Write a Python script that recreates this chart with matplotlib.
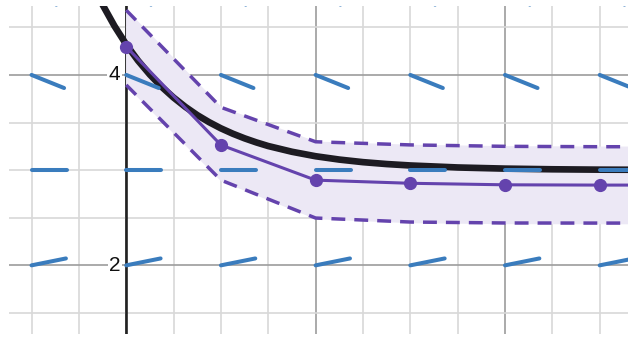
import numpy as np
import matplotlib.pyplot as plt
from matplotlib.ticker import MultipleLocator

# solution curve y(x), read point by point
curve_x = [-0.25, -0.125, 0.0, 0.125, 0.25, 0.375, 0.5, 0.625, 0.75, 0.875, 1.0,
           1.125, 1.25, 1.375, 1.5, 1.75, 2.0, 2.25, 2.5, 2.75, 3.0, 3.5, 4.0,
           4.5, 5.0, 5.4]
curve_y = [4.738, 4.515, 4.32, 4.150, 4.003, 3.874, 3.762, 3.664, 3.578, 3.504, 3.439,
           3.383, 3.334, 3.291, 3.253, 3.193, 3.146, 3.111, 3.084, 3.064, 3.049, 3.028, 3.016,
           3.009, 3.005, 3.004]

# step approximation with its error band
step_x = [0, 1, 2, 3, 4, 5, 6]
step_y = [4.296, 3.264, 2.895, 2.862, 2.846, 2.843, 2.843]
upper_y = [4.68, 3.66, 3.298, 3.265, 3.250, 3.246, 3.246]
lower_y = [3.895, 2.895, 2.497, 2.455, 2.445, 2.444, 2.444]

# slope field: slope on each row of grid points
field_x = [-1, 0, 1, 2, 3, 4, 5]
field_rows = [2, 3, 4, 5]
field_slopes = [0.2, 0.0, -0.4, -1.0]
seg_len = 0.37

purple = '#6443ad'
blue = '#3a7cbd'

fig = plt.figure(figsize=(6.28, 3.37), dpi=100)
ax = fig.add_axes([9 / 628, 3 / 337, 619 / 628, 328 / 337])
ax.set_xlim(-1.238, 5.299)
ax.set_ylim(1.279, 4.724)

# grid
ax.xaxis.set_major_locator(MultipleLocator(2))
ax.xaxis.set_minor_locator(MultipleLocator(0.5))
ax.yaxis.set_major_locator(MultipleLocator(2))
ax.yaxis.set_minor_locator(MultipleLocator(0.5))
ax.grid(which='minor', color='#d8d8d8', linewidth=1.2, zorder=0)
ax.grid(which='major', color='#9c9c9c', linewidth=1.2, zorder=0)
ax.tick_params(which='both', length=0, labelbottom=False, labelleft=False)
for s in ax.spines.values():
    s.set_visible(False)
ax.set_axisbelow(True)
ax.axvline(0, color='#222222', linewidth=1.9, zorder=1)

# error band
ax.fill_between(step_x, lower_y, upper_y, color='#ece8f5', zorder=2)
ax.plot(step_x, upper_y, color=purple, lw=2.5, dashes=(4, 2.6), zorder=3)
ax.plot(step_x, lower_y, color=purple, lw=2.5, dashes=(4, 2.6), zorder=3)

# exact solution
ax.plot(curve_x, curve_y, color='#1d1b22', lw=4.8, solid_capstyle='round', zorder=4)

# slope segments
for row, m in zip(field_rows, field_slopes):
    ang = np.arctan(m)
    for x0 in field_x:
        ax.plot([x0, x0 + seg_len * np.cos(ang)], [row, row + seg_len * np.sin(ang)],
                color=blue, lw=2.9, solid_capstyle='round', zorder=5)

# approximation
ax.plot(step_x, step_y, color=purple, lw=2.2, marker='o', markersize=8.5, zorder=6)

for v in [4, 2]:
    ax.text(-0.06, v, str(v), ha='right', va='center', fontsize=15,
            family='Liberation Sans', color='#111111', zorder=7,
            bbox=dict(facecolor='white', edgecolor='none', pad=1.0))

fig.savefig('out.png', dpi=100)
